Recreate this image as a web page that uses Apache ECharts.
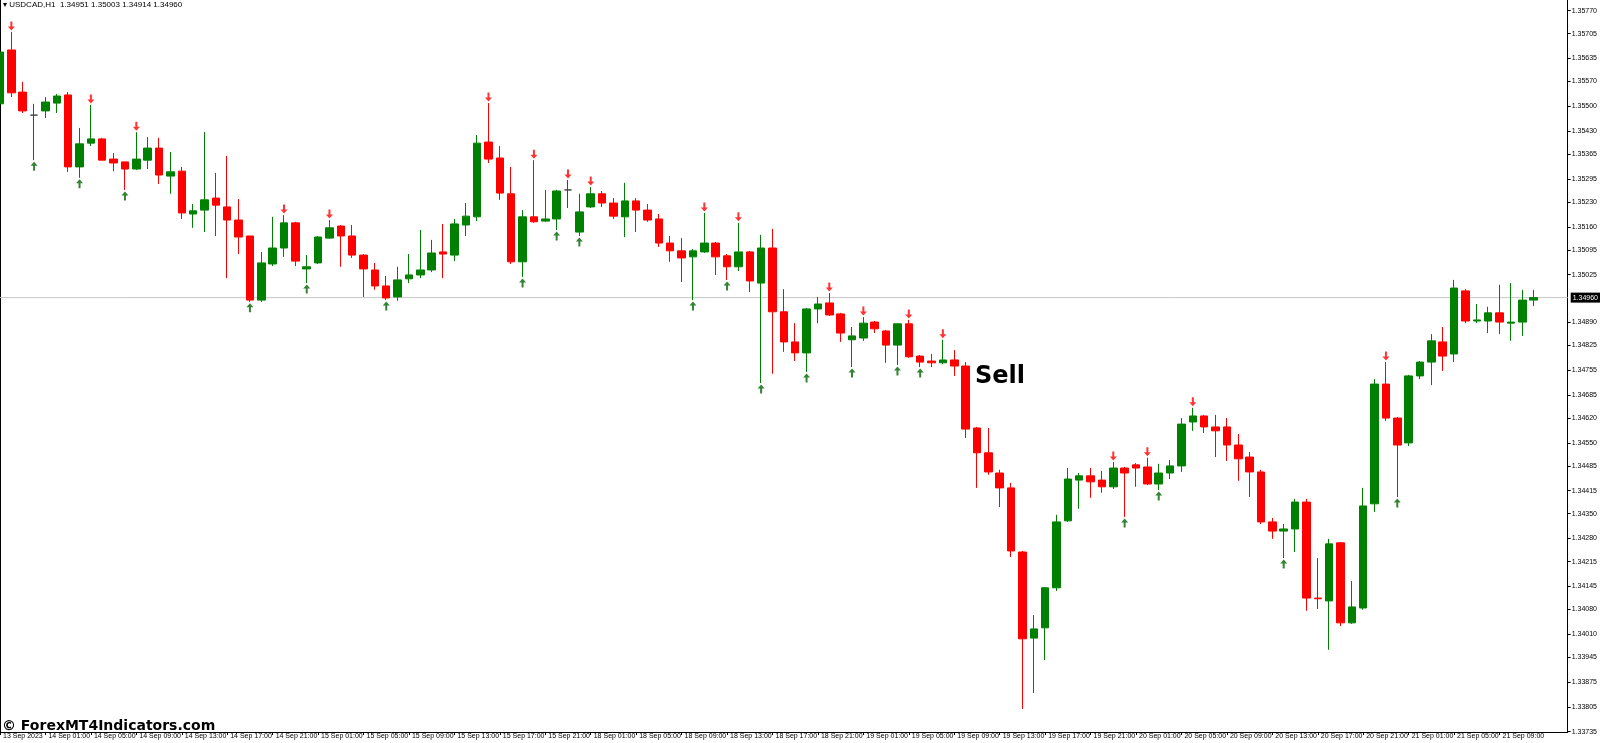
<!DOCTYPE html>
<html><head><meta charset="utf-8">
<script src="https://cdn.jsdelivr.net/npm/echarts@6/dist/echarts.min.js"></script>
<style>html,body{margin:0;padding:0;background:#fff}#c{width:1600px;height:743px}</style>
</head><body><div id="c"></div>
<script>
// OHLC in 1e-5 price points
const opens  = [135507,135659,135540,135475,135487,135509,135532,135329,135396,135408,135351,135343,135323,135348,135382,135303,135317,135196,135207,135241,135216,135179,135134,134953,135055,135100,135171,135041,135058,135128,135162,135134,135080,135038,134993,134962,135013,135024,135038,135089,135080,135165,135188,135399,135354,135253,135061,135188,135176,135182,135264,135145,135216,135253,135227,135188,135233,135207,135182,135114,135092,135075,135089,135114,135078,135047,135089,135001,135100,134920,134835,134804,134928,134945,134914,134841,134846,134891,134866,134826,134886,134795,134781,134776,134784,134767,134592,134522,134465,134423,134242,133999,134028,134141,134330,134445,134457,134445,134426,134479,134488,134482,134434,134465,134485,134609,134626,134595,134595,134544,134510,134468,134327,134301,134307,134383,134112,134104,134268,134042,134084,134378,134716,134620,134550,134739,134778,134835,134801,134979,134894,134894,134917,134888,134891,134953];
const closes = [135653,135538,135487,135475,135512,135529,135329,135394,135408,135348,135340,135323,135351,135382,135306,135315,135199,135205,135236,135221,135179,135131,134953,135058,135100,135171,135063,135047,135131,135157,135134,135080,135041,134993,134959,135010,135024,135038,135086,135083,135168,135190,135396,135351,135255,135061,135188,135174,135182,135261,135264,135202,135253,135227,135190,135233,135207,135179,135114,135092,135072,135092,135114,135075,135047,135089,135007,135100,134920,134835,134804,134928,134942,134911,134860,134852,134888,134872,134826,134886,134793,134778,134776,134784,134767,134589,134522,134468,134423,134245,133997,134025,134141,134327,134448,134457,134440,134426,134479,134465,134479,134434,134465,134485,134603,134626,134595,134584,134544,134505,134468,134327,134301,134307,134383,134112,134110,134265,134042,134087,134372,134716,134620,134544,134739,134778,134838,134795,134987,134894,134897,134917,134891,134891,134953,134960];
const lows   = [135501,135526,135481,135348,135467,135481,135315,135298,135388,135348,135317,135264,135320,135323,135281,135253,135182,135157,135145,135134,135015,135083,134948,134948,135049,135075,135049,135001,135055,135126,135047,135072,134962,134982,134953,134951,135001,135015,135032,135015,135063,135134,135176,135340,135236,135055,135018,135171,135174,135151,135213,135134,135213,135216,135182,135131,135145,135174,135103,135061,135004,134953,135086,135024,135010,135035,134976,134719,134745,134807,134781,134750,134888,134908,134835,134764,134838,134860,134776,134770,134790,134764,134764,134773,134739,134564,134423,134460,134369,134228,133799,133844,133937,134132,134327,134364,134395,134409,134420,134341,134426,134431,134417,134448,134468,134584,134578,134510,134499,134443,134397,134321,134279,134225,134242,134076,134081,133966,134033,134039,134079,134355,134612,134397,134541,134730,134713,134753,134778,134888,134888,134860,134857,134838,134852,134936];
const highs  = [135673,135710,135569,135507,135526,135535,135540,135439,135504,135411,135368,135343,135427,135413,135411,135371,135329,135224,135427,135312,135360,135238,135134,135089,135188,135193,135174,135080,135134,135179,135165,135165,135083,135058,135021,135047,135083,135151,135123,135168,135182,135227,135419,135509,135388,135329,135207,135348,135264,135264,135292,135253,135272,135261,135241,135284,135241,135224,135196,135134,135128,135097,135199,135117,135083,135171,135092,135137,135154,134984,134888,134931,134962,134973,134917,134877,134905,134894,134869,134888,134897,134798,134801,134841,134812,134778,134595,134592,134474,134437,134245,134064,134143,134347,134479,134465,134479,134471,134496,134482,134493,134508,134491,134502,134620,134649,134629,134629,134620,134575,134524,134474,134338,134321,134392,134392,134225,134279,134270,134160,134423,134730,134778,134623,134742,134781,134857,134877,135010,134984,134942,134934,134996,135001,134982,134982];
const sellArrows = [1,8,12,25,29,43,47,50,52,62,65,73,76,80,83,98,101,105,122];
const buyArrows  = [3,7,11,22,27,34,46,49,51,61,64,67,71,75,79,81,99,102,113,123];
const dateLabels = ['13 Sep 2023','14 Sep 01:00','14 Sep 05:00','14 Sep 09:00','14 Sep 13:00','14 Sep 17:00','14 Sep 21:00','15 Sep 01:00','15 Sep 05:00','15 Sep 09:00','15 Sep 13:00','15 Sep 17:00','15 Sep 21:00','18 Sep 01:00','18 Sep 05:00','18 Sep 09:00','18 Sep 13:00','18 Sep 17:00','18 Sep 21:00','19 Sep 01:00','19 Sep 05:00','19 Sep 09:00','19 Sep 13:00','19 Sep 17:00','19 Sep 21:00','20 Sep 01:00','20 Sep 05:00','20 Sep 09:00','20 Sep 13:00','20 Sep 17:00','20 Sep 21:00','21 Sep 01:00','21 Sep 05:00','21 Sep 09:00'];
const priceTicks = ['1.35770','1.35705','1.35635','1.35570','1.35500','1.35430','1.35365','1.35295','1.35230','1.35160','1.35095','1.35025','1.34890','1.34825','1.34755','1.34685','1.34620','1.34550','1.34485','1.34415','1.34350','1.34280','1.34215','1.34145','1.34080','1.34010','1.33945','1.33875','1.33805','1.33735'];
const currentPrice = 1.34960;
const title = 'USDCAD,H1  1.34951 1.35003 1.34914 1.34960';

const SLOTS = 139;
const cats = []; for (let i = 0; i < SLOTS; i++) cats.push(String(i));
const P = v => v / 100000;
const data = opens.map((o, i) => [P(o), P(closes[i]), P(lows[i]), P(highs[i])]);
const downPath = 'path://M2,0 L4,0 L4,5 L6.5,5 L3,9 L-0.5,5 L2,5 Z';
const showTick = i => i % 4 === 0 && i / 4 < dateLabels.length;

const chart = echarts.init(document.getElementById('c'));
chart.setOption({
  animation: false,
  grid: { left: 0, right: 25, top: 0, bottom: 11 },
  xAxis: {
    type: 'category', data: cats, boundaryGap: false,
    axisLine: { lineStyle: { color: '#000', width: 1 } },
    axisTick: { show: true, interval: showTick, length: 3, lineStyle: { color: '#000' } },
    axisLabel: { interval: showTick, formatter: (v, i) => dateLabels[i / 4] || '', align: 'left', margin: 1, fontSize: 7, fontFamily: 'Liberation Sans', color: '#000', padding: [0, 0, 0, 3] },
    splitLine: { show: false }
  },
  yAxis: {
    type: 'value', position: 'right', min: 1.33734, max: 1.35800, scale: true,
    axisLine: { show: true, lineStyle: { color: '#000' } },
    axisTick: { show: true, length: 3, customValues: priceTicks.map(Number), lineStyle: { color: '#000' } },
    axisLabel: { customValues: priceTicks.map(Number), formatter: v => v.toFixed(5), fontSize: 7, fontFamily: 'Liberation Sans', color: '#000', margin: 4 },
    splitLine: { show: false }
  },
  series: [
    {
      type: 'line', data: [[0, currentPrice], [SLOTS - 1, currentPrice]], symbol: 'none', silent: true, z: 1,
      lineStyle: { color: '#c8c8c8', width: 1 },
      endLabel: { show: true, formatter: currentPrice.toFixed(5), color: '#fff', backgroundColor: '#000', fontSize: 7, fontFamily: 'Liberation Sans', padding: [2, 2, 1, 2], distance: 3 }
    },
    {
      type: 'candlestick', data: data, barWidth: 8, z: 3,
      itemStyle: { color: '#008000', color0: '#ff0000', borderColor: '#008000', borderColor0: '#ff0000', borderColorDoji: '#444', borderWidth: 1 }
    },
    {
      type: 'scatter', symbol: downPath, symbolSize: [7, 9], symbolOffset: [0, -6],
      itemStyle: { color: '#ff0000' }, z: 5,
      data: sellArrows.map(i => [i, P(highs[i])])
    },
    {
      type: 'scatter', symbol: downPath, symbolSize: [7, 9], symbolRotate: 180, symbolOffset: [0, 6],
      itemStyle: { color: '#006400' }, z: 5,
      data: buyArrows.map(i => [i, P(lows[i])])
    }
  ],
  graphic: [
    { type: 'text', left: 3, top: 1, style: { text: '▾ ' + title, fontSize: 8, fontFamily: 'Liberation Sans', fill: '#000' } },
    { type: 'text', left: 975, top: 365, style: { text: 'Sell', fontSize: 24, fontWeight: 'bold', fontFamily: 'DejaVu Sans', fill: '#000' } },
    { type: 'text', left: 2, top: 719, style: { text: '© ForexMT4Indicators.com', fontSize: 14, fontWeight: 'bold', fontFamily: 'DejaVu Sans', fill: '#000' } },
    { type: 'line', shape: { x1: 0.5, y1: 0, x2: 0.5, y2: 732 }, style: { stroke: '#000', lineWidth: 1 } }
  ]
});
</script></body></html>
